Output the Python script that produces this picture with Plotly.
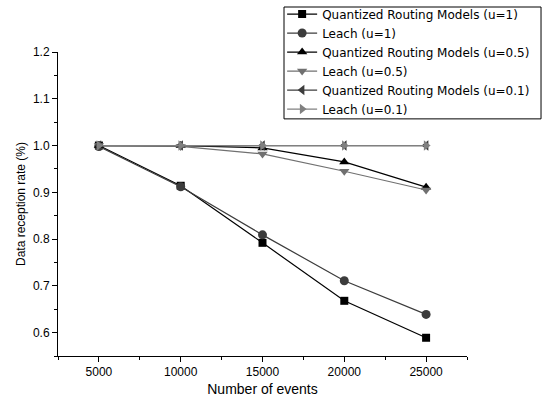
import plotly.graph_objects as go

events = [5000, 10000, 15000, 20000, 25000]
event_labels = ["5000", "10000", "15000", "20000", "25000"]
qrm_u1 = [1.0, 0.914, 0.792, 0.668, 0.589]
leach_u1 = [0.998, 0.912, 0.809, 0.711, 0.639]
qrm_u05 = [1.0, 1.0, 0.995, 0.965, 0.911]
leach_u05 = [1.0, 0.998, 0.982, 0.945, 0.905]
qrm_u01 = [1.0, 1.0, 1.0, 1.0, 1.0]
leach_u01 = [1.0, 1.0, 1.0, 1.0, 1.0]
y_ticks = [0.6, 0.7, 0.8, 0.9, 1.0, 1.1, 1.2]

names = ["Quantized Routing Models (u=1)", "Leach (u=1)",
         "Quantized Routing Models (u=0.5)", "Leach (u=0.5)",
         "Quantized Routing Models (u=0.1)", "Leach (u=0.1)"]
series = [qrm_u1, leach_u1, qrm_u05, leach_u05, qrm_u01, leach_u01]
colors = ["#000000", "#3c3c3c", "#000000", "#707070", "#3c3c3c", "#808080"]
symbols = ["square", "circle", "triangle-up", "triangle-down", "triangle-left", "triangle-right"]
sizes = [8, 9, 9, 9, 9, 9]

fig = go.Figure()
for n, s, c, sym, sz in zip(names, series, colors, symbols, sizes):
    fig.add_trace(go.Scatter(x=events, y=s, name=n, mode="lines+markers",
                             line=dict(color=c, width=1.2),
                             marker=dict(symbol=sym, size=sz, color=c)))

tickfont = dict(family="Liberation Sans, Arial", size=12, color="black")

# legend frame
fig.add_shape(type="rect", xref="paper", yref="paper", layer="above",
              x0=0.5526, x1=1.181, y0=0.780, y1=1.148,
              line=dict(color="black", width=1))

fig.update_layout(
    width=546, height=401,
    margin=dict(l=58, r=79, t=52, b=45, autoexpand=False),
    paper_bgcolor="white", plot_bgcolor="white",
    font=dict(family="Liberation Sans, Arial", size=12, color="black"),
    xaxis=dict(range=[2500, 27500], tickvals=events, ticktext=event_labels,
               showline=True, linecolor="black", linewidth=1, ticks="outside",
               ticklen=5, tickcolor="black", showgrid=False, zeroline=False,
               tickfont=tickfont, automargin=False,
               minor=dict(ticks="outside", ticklen=3, tickcolor="black", dtick=2500, tick0=2500),
               title=dict(text="Number of events", font=dict(size=14), standoff=5)),
    yaxis=dict(range=[0.55, 1.2], tickvals=y_ticks, tickformat=".1f",
               showline=True, linecolor="black", linewidth=1, ticks="outside",
               ticklen=5, tickcolor="black", showgrid=False, zeroline=False,
               tickfont=tickfont, automargin=False,
               minor=dict(ticks="outside", ticklen=3, tickcolor="black", dtick=0.05, tick0=0.55),
               title=dict(text="Data reception rate (%)", font=dict(size=12), standoff=4)),
    legend=dict(x=0.548, y=1.1726, xanchor="left", yanchor="top",
                borderwidth=0, bgcolor="rgba(0,0,0,0)",
                font=dict(family="DejaVu Sans", size=12), tracegroupgap=0, itemwidth=30),
    showlegend=True,
)

fig.write_html("out.html", config={"displayModeBar": False},
               post_script="document.body.style.margin='0';")
